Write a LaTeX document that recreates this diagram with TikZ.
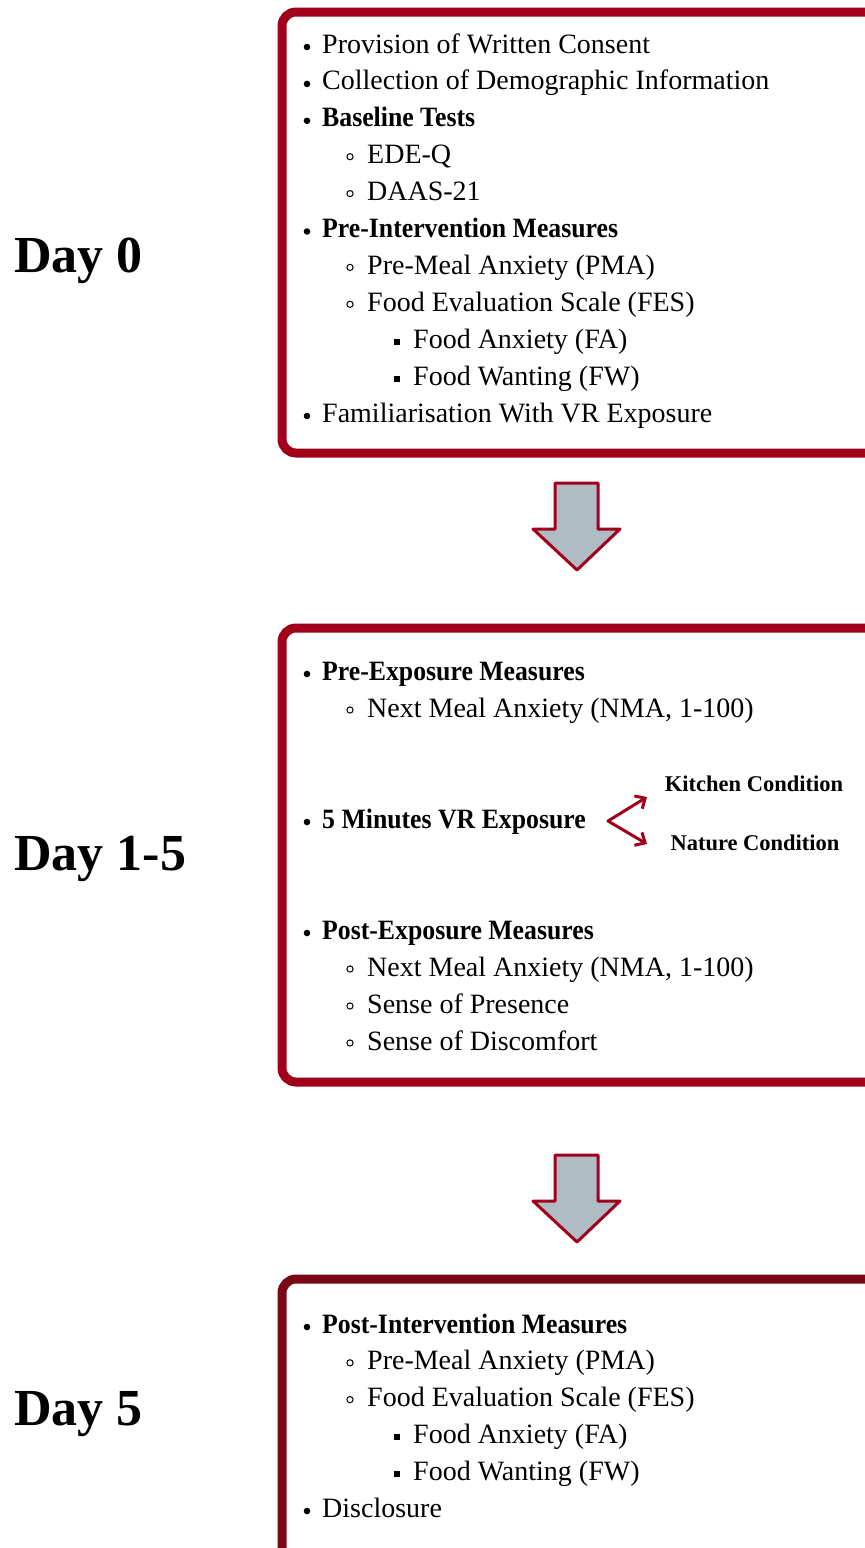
\documentclass[tikz,border=0pt]{standalone}
\usepackage{fontspec}
\setmainfont{Liberation Serif}
\usetikzlibrary{arrows.meta, calc}
\usepackage{xcolor}
\definecolor{boxRed}{HTML}{A00019}
\definecolor{boxDarkRed}{HTML}{780814}
\definecolor{arrowFill}{HTML}{AFBCC4}
\tikzset{
    DayText/.style={font=\fontsize{52}{62}\selectfont\bfseries, anchor=base west, inner sep=0pt},
    ItemText/.style={font=\fontsize{28}{34}\selectfont, anchor=base west, inner sep=0pt},
    CondText/.style={font=\fontsize{22.5}{27}\selectfont\bfseries, inner sep=0pt},
    StageBox/.style={line width=9pt, rounded corners=14pt},
    StepArrow/.style={fill=arrowFill, draw=boxRed, line width=3pt, line join=round},
    CondArrow/.style={{Straight Barb[length=8pt, width=15pt]}-{Straight Barb[length=8pt, width=15pt]}, draw=boxRed, line width=3pt, line join=round}
}
% fette Punkte etwas schmaler setzen
\newcommand{\itemBold}[1]{\scalebox{0.92}[1]{\textbf{#1}}}
% Aufzaehlungszeichen je Ebene: Textanfang setzen und Marke zeichnen
\newcommand{\itemMark}[2]{%
    \ifcase#1\or
        \def\tx{322}\fill (307,#2-6) circle (3.3);
    \or
        \def\tx{367}\draw[line width=1pt] (350,#2-7) circle (3.1);
    \or
        \def\tx{413}\fill (397,#2-6) ++(-3,-3) rectangle ++(6,6);
    \fi
}

\begin{document}
\begin{tikzpicture}[x=1pt, y=-1pt]
    \useasboundingbox (0,0) rectangle (865,1548);
    \clip (0,0) rectangle (865,1548);

    % Kaesten der drei Phasen (rechts angeschnitten)
    \draw[StageBox, draw=boxRed] (282,12) rectangle (900,453);
    \draw[StageBox, draw=boxRed] (282,628) rectangle (900,1082);
    \draw[StageBox, draw=boxDarkRed] (282,1279) rectangle (900,1580);

    % Tage links
    \node[DayText] (day0) at (14,272) {Day 0};
    \node[DayText] (day15) at (14,870) {Day 1-5};
    \node[DayText] (day5) at (14,1425) {Day 5};

    % Day 0
    \foreach \lvl/\txt [count=\i] in {
        1/{Provision of Written Consent},
        1/{Collection of Demographic Information},
        1/{\itemBold{Baseline Tests}},
        2/{EDE-Q},
        2/{DAAS-21},
        1/{\itemBold{Pre-Intervention Measures}},
        2/{Pre-Meal Anxiety (PMA)},
        2/{Food Evaluation Scale (FES)},
        3/{Food Anxiety (FA)},
        3/{Food Wanting (FW)},
        1/{Familiarisation With VR Exposure}} {
        \pgfmathsetmacro{\y}{53+36.9*(\i-1)}
        \itemMark{\lvl}{\y}
        \node[ItemText] (a\i) at (\tx,\y) {\txt};
    }

    % Day 1-5
    \foreach \y/\lvl/\txt [count=\i] in {
        680/1/{\itemBold{Pre-Exposure Measures}},
        717/2/{Next Meal Anxiety (NMA, 1-100)},
        828/1/{\itemBold{5 Minutes VR Exposure}},
        939/1/{\itemBold{Post-Exposure Measures}},
        976/2/{Next Meal Anxiety (NMA, 1-100)},
        1013/2/{Sense of Presence},
        1050/2/{Sense of Discomfort}} {
        \itemMark{\lvl}{\y}
        \node[ItemText] (b\i) at (\tx,\y) {\txt};
    }

    % Bedingungen
    \node[CondText] (kitchen) at (754,784) {Kitchen Condition};
    \node[CondText] (nature) at (755,843) {Nature Condition};
    \coordinate (fork) at (608,821);
    \coordinate (kitchenTip) at (647,797);
    \coordinate (natureTip) at (647,844);
    \draw[CondArrow] (kitchenTip) -- (fork) -- (natureTip);

    % Day 5
    \foreach \lvl/\txt [count=\i] in {
        1/{\itemBold{Post-Intervention Measures}},
        2/{Pre-Meal Anxiety (PMA)},
        2/{Food Evaluation Scale (FES)},
        3/{Food Anxiety (FA)},
        3/{Food Wanting (FW)},
        1/{Disclosure}} {
        \pgfmathsetmacro{\y}{1333+36.8*(\i-1)}
        \itemMark{\lvl}{\y}
        \node[ItemText] (c\i) at (\tx,\y) {\txt};
    }

    % Pfeile zwischen den Phasen
    \foreach \dy in {0,672} {
        \draw[StepArrow, shift={(0,\dy)}] (555,483) -- (598,483) -- (598,529) -- (620,529)
            -- (577,570) -- (533,529) -- (555,529) -- cycle;
    }
\end{tikzpicture}
\end{document}
